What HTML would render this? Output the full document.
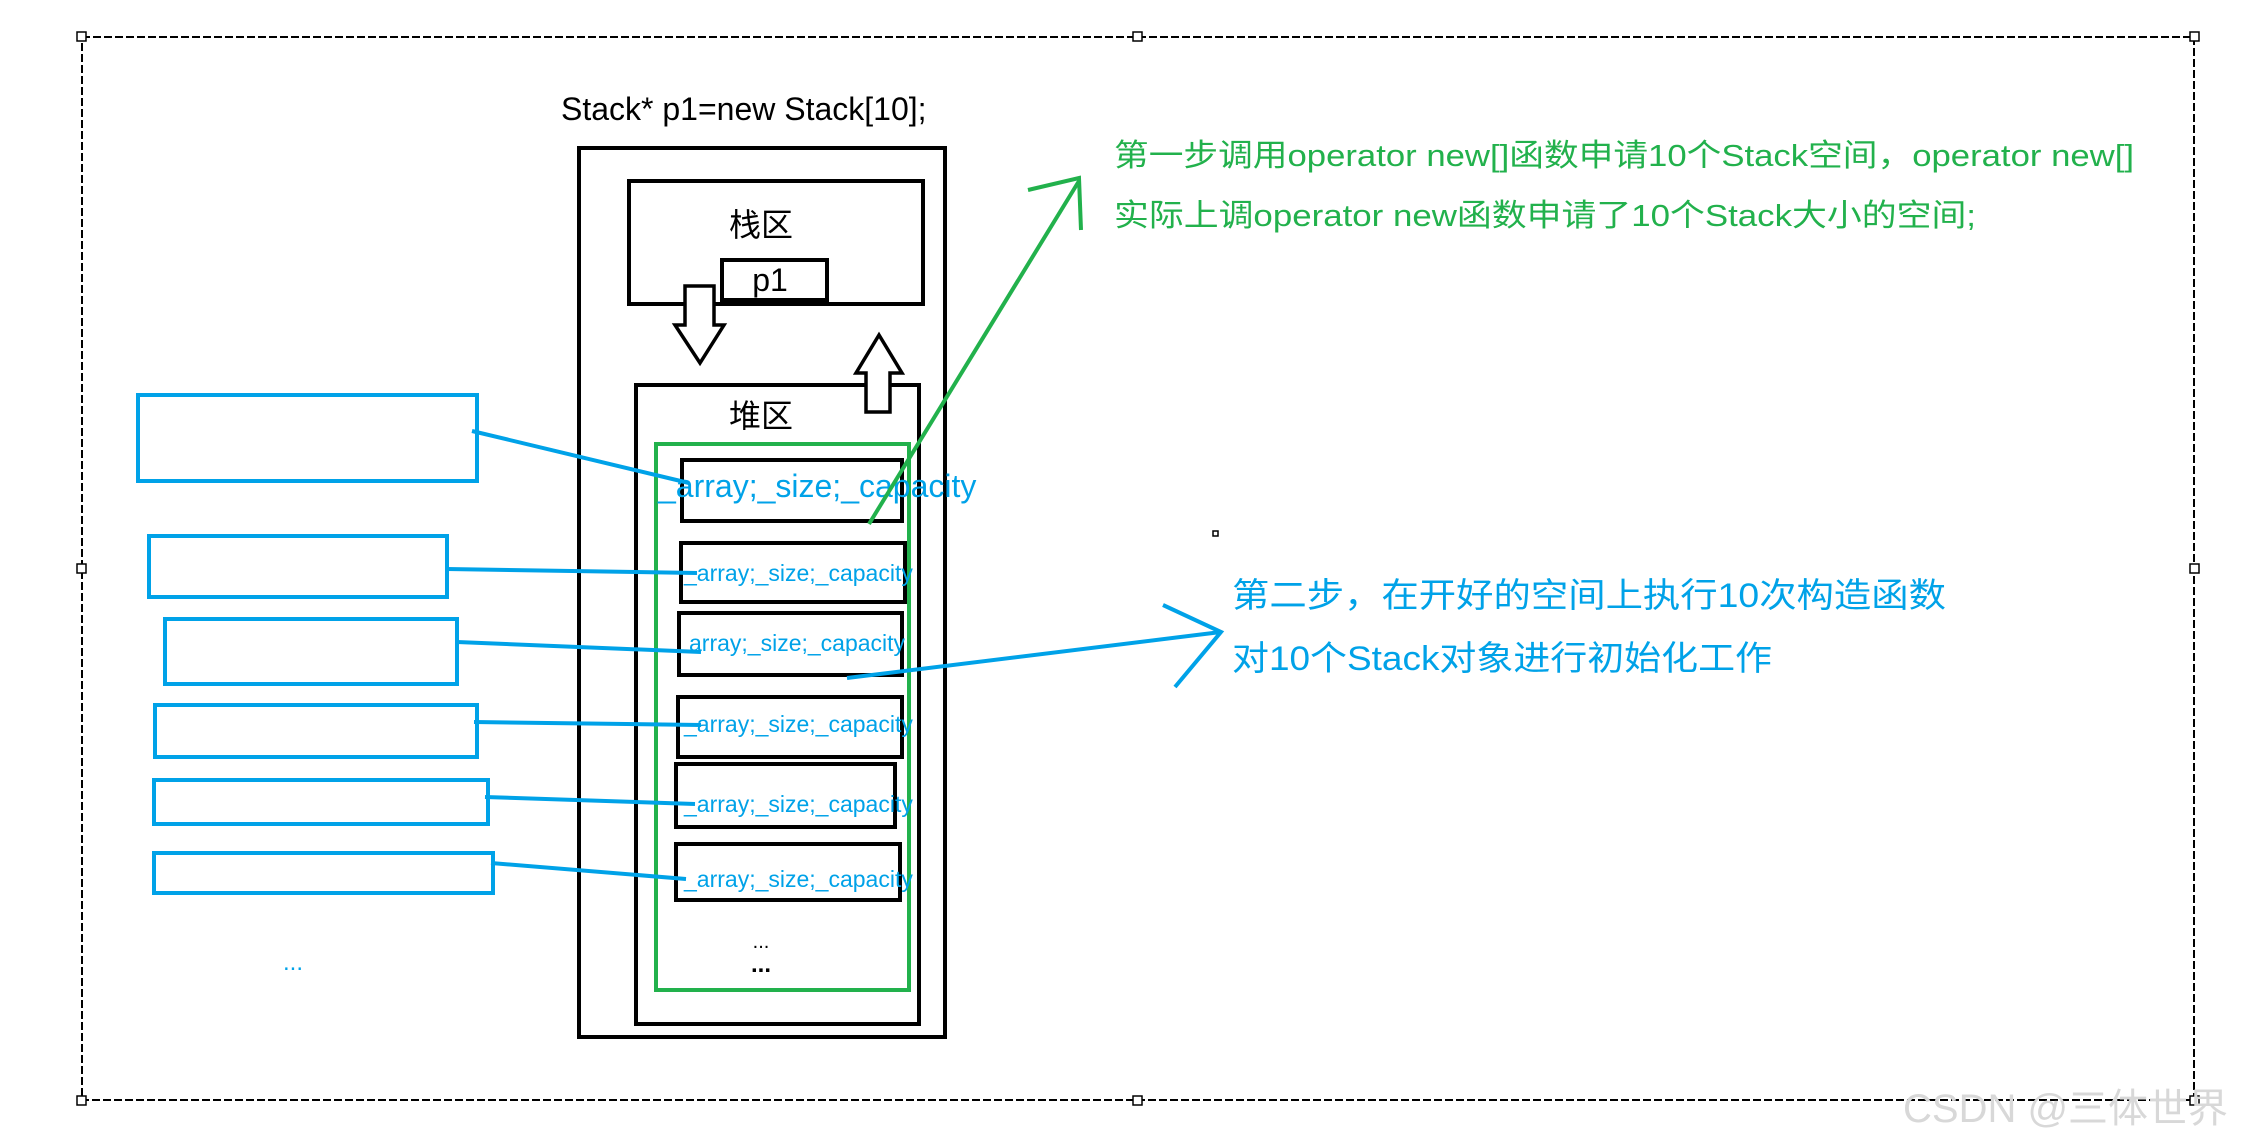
<!DOCTYPE html>
<html><head><meta charset="utf-8"><style>
html,body{margin:0;padding:0;background:#fff;}
svg{display:block;}
text{font-family:"Liberation Sans","Noto Sans CJK SC",sans-serif;}
</style></head><body>
<svg width="2252" height="1146" viewBox="0 0 2252 1146" xmlns="http://www.w3.org/2000/svg">
<rect width="2252" height="1146" fill="#fff"/>
<!-- dashed frame -->
<rect x="82" y="37" width="2112" height="1063" fill="none" stroke="#000" stroke-width="2" stroke-dasharray="8,3"/>
<g fill="#fff" stroke="#000" stroke-width="1.5">
<rect x="77" y="32" width="9" height="9"/><rect x="1133" y="32" width="9" height="9"/><rect x="2190" y="32" width="9" height="9"/>
<rect x="77" y="564" width="9" height="9"/><rect x="2190" y="564" width="9" height="9"/>
<rect x="77" y="1096" width="9" height="9"/><rect x="1133" y="1096" width="9" height="9"/><rect x="2190" y="1096" width="9" height="9"/>
<rect x="1213" y="531" width="5" height="5"/>
</g>
<text x="561" y="120" font-size="32" fill="#000">Stack* p1=new Stack[10];</text>
<g fill="none" stroke="#000" stroke-width="4">
<rect x="579" y="148" width="366" height="889"/>
<rect x="629" y="181" width="294" height="123"/>
<rect x="722" y="260" width="105" height="40"/>
<rect x="636" y="385" width="283" height="639"/>
<rect x="682" y="460" width="220" height="61"/>
<rect x="681" y="543" width="224" height="59"/>
<rect x="679" y="613" width="223" height="62"/>
<rect x="678" y="697" width="224" height="60"/>
<rect x="676" y="764" width="219" height="63"/>
<rect x="676" y="844" width="224" height="56"/>
</g>
<g fill="#fff" stroke="#000" stroke-width="3.5" stroke-linejoin="miter">
<polygon points="685,286 714,286 714,325 724,325 700,363 675,325 685,325"/>
<polygon points="866,412 890,412 890,373 902,373 879,335 856,373 866,373"/>
</g>
<text x="761" y="236" font-size="32" text-anchor="middle" fill="#000">栈区</text>
<text x="770" y="291" font-size="32" text-anchor="middle" fill="#000">p1</text>
<text x="761" y="427" font-size="32" text-anchor="middle" fill="#000">堆区</text>
<rect x="656" y="444" width="253" height="546" fill="none" stroke="#22b14c" stroke-width="4"/>
<g fill="#00a2e8">
<text x="658" y="497" font-size="32">_array;_size;_capacity</text>
<text x="684" y="581" font-size="23">_array;_size;_capacity</text>
<text x="689" y="651" font-size="23">array;_size;_capacity</text>
<text x="684" y="732" font-size="23">_array;_size;_capacity</text>
<text x="684" y="812" font-size="23">_array;_size;_capacity</text>
<text x="684" y="887" font-size="23">_array;_size;_capacity</text>
<text x="293" y="970" font-size="24" text-anchor="middle">...</text>
</g>
<text x="761" y="948" font-size="20" text-anchor="middle" fill="#000">...</text>
<text x="761" y="972" font-size="24" font-weight="bold" text-anchor="middle" fill="#000">...</text>
<g fill="none" stroke="#00a2e8" stroke-width="4">
<rect x="138" y="395" width="339" height="86"/>
<rect x="149" y="536" width="298" height="61"/>
<rect x="165" y="619" width="292" height="65"/>
<rect x="155" y="705" width="322" height="52"/>
<rect x="154" y="780" width="334" height="44"/>
<rect x="154" y="853" width="339" height="40"/>
<line x1="472" y1="431" x2="689" y2="483"/>
<line x1="447" y1="569" x2="697" y2="573"/>
<line x1="457" y1="642" x2="701" y2="652"/>
<line x1="474" y1="722" x2="701" y2="725"/>
<line x1="485" y1="797" x2="695" y2="804"/>
<line x1="491" y1="863" x2="686" y2="879"/>
<line x1="847" y1="678" x2="1221" y2="632"/>
<polyline points="1163,605 1221,632 1175,687"/>
</g>
<g fill="none" stroke="#22b14c" stroke-width="4">
<line x1="869" y1="524" x2="1079" y2="181"/>
<polyline points="1028,190 1079,178 1081,230"/>
</g>
<g fill="#22b14c" font-size="31">
<text x="1114" y="166" textLength="1020" lengthAdjust="spacingAndGlyphs">第一步调用operator new[]函数申请10个Stack空间，operator new[]</text>
<text x="1114" y="226" textLength="862" lengthAdjust="spacingAndGlyphs">实际上调operator new函数申请了10个Stack大小的空间;</text>
</g>
<g fill="#00a2e8" font-size="34">
<text x="1232" y="607" textLength="714" lengthAdjust="spacingAndGlyphs">第二步，在开好的空间上执行10次构造函数</text>
<text x="1232" y="670" textLength="540" lengthAdjust="spacingAndGlyphs">对10个Stack对象进行初始化工作</text>
</g>
<text x="1903" y="1122" font-size="40" fill="#d8d8d8">CSDN @三体世界</text>
</svg>
</body></html>
